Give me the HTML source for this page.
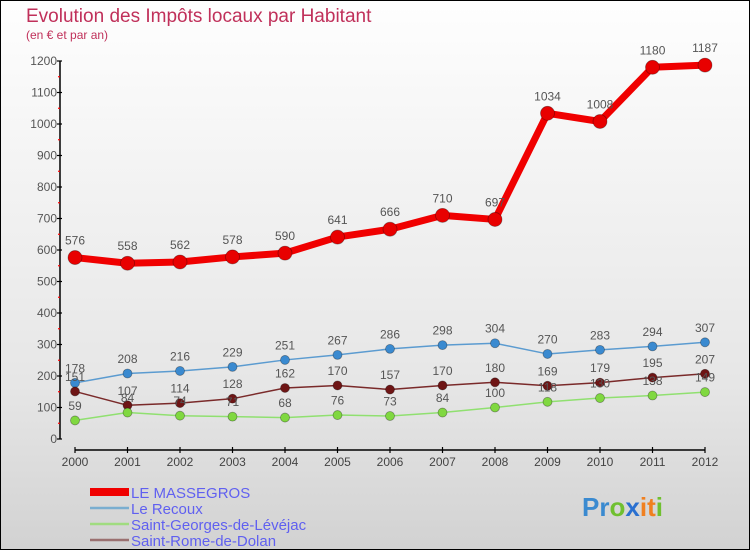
<!DOCTYPE html>
<html><head><meta charset="utf-8"><style>
html,body{margin:0;padding:0;}
body{width:750px;height:550px;overflow:hidden;font-family:"Liberation Sans",sans-serif;}
#wrap{position:relative;width:748px;height:548px;border:1px solid #000;background:linear-gradient(#fefefe,#e6e6e6 70%,#d2d2d2);}
</style></head><body>
<div id="wrap">
<svg id="chart" width="748" height="548" style="position:absolute;left:0;top:0"></svg>
</div>
<script>
const years=["2000","2001","2002","2003","2004","2005","2006","2007","2008","2009","2010","2011","2012"];
const massegros=[576,558,562,578,590,641,666,710,697,1034,1008,1180,1187];
const recoux=[178,208,216,229,251,267,286,298,304,270,283,294,307];
const georges=[59,84,74,71,68,76,73,84,100,118,130,138,149];
const rome=[151,107,114,128,162,170,157,170,180,169,179,195,207];
const yTicks=[0,100,200,300,400,500,600,700,800,900,1000,1100,1200];
const seriesNames=["LE MASSEGROS","Le Recoux","Saint-Georges-de-Lévéjac","Saint-Rome-de-Dolan"];

const NS="http://www.w3.org/2000/svg";
const svg=document.getElementById('chart');
function el(t,a,p){const e=document.createElementNS(NS,t);for(const k in a)e.setAttribute(k,a[k]);(p||svg).appendChild(e);return e;}
const ox=-1,oy=-1; // border offset
function X(i){return 75+i*52.5+ox;}
function Y(v){return 439-v*0.315+oy;}

// title
let t=el('text',{x:26+ox,y:22+oy,'font-size':19,fill:'#c0305a'});t.textContent="Evolution des Impôts locaux par Habitant";

t=el('text',{x:26+ox,y:39+oy,'font-size':12,fill:'#c0305a'});t.textContent="(en € et par an)";


// axes
const ax=el('g',{});
el('line',{x1:60+ox,y1:Y(1200),x2:60+ox,y2:Y(0),stroke:'#000','stroke-width':1.5},ax);
yTicks.forEach(v=>{
  el('line',{x1:57+ox,y1:Y(v),x2:62+ox,y2:Y(v),stroke:'#000','stroke-width':1.2},ax);
  if(v<1200){el('line',{x1:58+ox,y1:Y(v+50),x2:60+ox,y2:Y(v+50),stroke:'#f00','stroke-width':1.2},ax);}
  const l=el('text',{x:57+ox,y:Y(v)+4,'font-size':12,fill:'#555','text-anchor':'end'},ax);l.textContent=v;
  
});
const xg=el('g',{});
el('line',{x1:X(0),y1:450+oy,x2:X(12),y2:450+oy,stroke:'#000','stroke-width':1.5},xg);
years.forEach((y,i)=>{
  el('line',{x1:X(i),y1:447+oy,x2:X(i),y2:453+oy,stroke:'#000','stroke-width':1.2},xg);
  const l=el('text',{x:X(i),y:466+oy,'font-size':12,fill:'#444','text-anchor':'middle'},xg);l.textContent=y;
  
});

function series(data,color,lw,r,dot,name){
  const g=el('g',{});
  el('polyline',{points:data.map((v,i)=>X(i)+','+Y(v)).join(' '),fill:'none',stroke:color,'stroke-width':lw,'stroke-linejoin':'round'},g);
  data.forEach((v,i)=>{
    const c=el('circle',{cx:X(i),cy:Y(v),r:r,fill:dot,stroke:'rgba(0,0,0,0.35)','stroke-width':0.8},g);
    
  });
  data.forEach((v,i)=>{
    const l=el('text',{x:X(i),y:Y(v)-(r+6),'font-size':12,fill:'#555','text-anchor':'middle'},g);l.textContent=v;
    
  });
}
series(recoux,'#5b9bd0',1.5,4.5,'#3a8ad0','series-le-recoux');
series(rome,'#7a2a2a',1.5,4.5,'#6e1515','series-saint-rome-de-dolan');
series(georges,'#90e070',1.5,4.5,'#80d840','series-saint-georges-de-levejac');
series(massegros,'#f00000',7,7,'#e80000','series-le-massegros');

// legend
const colors=['#f00000','#7aaed0','#a0dc80','#9a7070'];
const widths=[8,2.5,2.5,2.5];
const lg=el('g',{});
seriesNames.forEach((n,i)=>{
  const yy=492+i*16+oy;
  el('line',{x1:90+ox,y1:yy,x2:129+ox,y2:yy,stroke:colors[i],'stroke-width':widths[i]},lg);
  const l=el('text',{x:131+ox,y:yy+6,'font-size':15,fill:'#6060f0',textLength:0},lg);l.removeAttribute('textLength');l.textContent=n;
  
});
// logo
const logo=el('text',{x:582+ox,y:516+oy,'font-size':26,'font-weight':'bold'});

[['P','#3a8ad0'],['r','#3a8ad0'],['o','#70c030'],['x','#2a70d0'],['i','#f08020'],['t','#f08020'],['i','#70c030']].forEach(([c,f])=>{const s=el('tspan',{fill:f},logo);s.textContent=c;});
</script>
</body></html>
